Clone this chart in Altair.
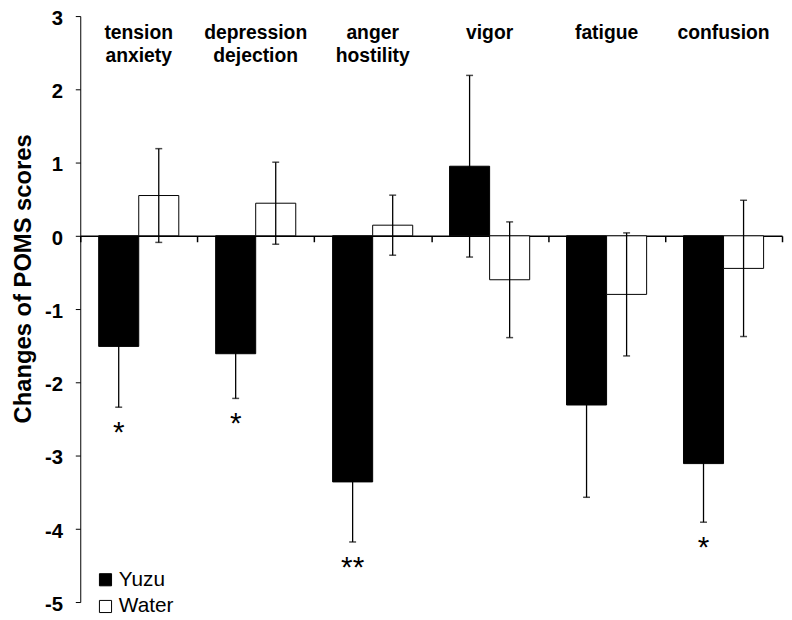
import altair as alt
import pandas as pd

categories = ["tension anxiety", "depression dejection", "anger hostility", "vigor", "fatigue", "confusion"]
cat_labels = ["tension\nanxiety", "depression\ndejection", "anger\nhostility", "vigor", "fatigue", "confusion"]
groups = ["Yuzu", "Water"]

yuzu_mean = [-1.51, -1.61, -3.36, 0.95, -2.31, -3.11]
yuzu_err = [0.83, 0.61, 0.82, 1.24, 1.26, 0.80]
water_mean = [0.55, 0.445, 0.145, -0.60, -0.80, -0.445]
water_err = [0.64, 0.56, 0.41, 0.79, 0.84, 0.93]
yuzu_sig = ["*", "*", "**", "", "", "*"]

rows = []
for i, c in enumerate(categories):
    rows.append(dict(cat=c, group="Yuzu", mean=yuzu_mean[i],
                     lo=yuzu_mean[i] - yuzu_err[i], hi=yuzu_mean[i] + yuzu_err[i], sig=yuzu_sig[i]))
    rows.append(dict(cat=c, group="Water", mean=water_mean[i],
                     lo=water_mean[i] - water_err[i], hi=water_mean[i] + water_err[i], sig=""))
df = pd.DataFrame(rows)
lab_df = pd.DataFrame({"cat": categories, "label": cat_labels})

FONT = "Liberation Sans"
W, H = 709, 592

xsc = alt.Scale(domain=categories, paddingInner=0, paddingOuter=0)
ysc = alt.Scale(domain=[-5, 3], nice=False, zero=False)
xaxis = alt.Axis(orient="bottom", offset=-(H * 5 / 8), labels=False, title=None,
                 tickBand="extent", tickSize=6, domainColor="black", tickColor="black",
                 domainWidth=1.5, tickWidth=1.5)
yaxis = alt.Axis(values=list(range(-5, 4)), labelExpr="datum.value + ''",
                 title="Changes of POMS scores", titleFont=FONT, titleFontSize=24,
                 titleFontWeight="bold", titleColor="black", titleX=-57, titleY=265,
                 titleAngle=270, titleAlign="center", titleBaseline="middle",
                 labelFont=FONT, labelFontSize=20.5, labelFontWeight="bold", labelColor="black",
                 labelPadding=13, labelOffset=2.5, tickSize=5, tickColor="black",
                 domainColor="black", tickWidth=1, domainWidth=1, grid=False)

def X():
    return alt.X("cat:N", scale=xsc, sort=categories, axis=xaxis)

def XO():
    return alt.XOffset("group:N", sort=groups,
                       scale=alt.Scale(domain=groups, paddingInner=0, paddingOuter=0.46))

bars = alt.Chart(df).mark_bar(stroke="black", strokeWidth=1).encode(
    x=X(), xOffset=XO(),
    y=alt.Y("mean:Q", scale=ysc, axis=yaxis),
    fill=alt.Fill("group:N", sort=groups,
                  scale=alt.Scale(domain=groups, range=["black", "white"]),
                  legend=alt.Legend(title=None, orient="none", legendX=15, legendY=559,
                                    symbolType="square", symbolSize=150,
                                    symbolStrokeColor="black", symbolStrokeWidth=1,
                                    labelFont=FONT, labelFontSize=21, labelColor="black",
                                    labelOffset=3, rowPadding=5, padding=0,
                                    direction="vertical")),
)

err = alt.Chart(df).mark_rule(color="black", strokeWidth=1.3).encode(
    x=X(), xOffset=XO(),
    y=alt.Y("lo:Q", scale=ysc, axis=yaxis), y2="hi:Q",
)
cap_lo = alt.Chart(df).mark_tick(color="black", orient="horizontal", size=7, thickness=1.5).encode(
    x=X(), xOffset=XO(), y=alt.Y("lo:Q", scale=ysc, axis=yaxis),
)
cap_hi = alt.Chart(df).mark_tick(color="black", orient="horizontal", size=7, thickness=1.5).encode(
    x=X(), xOffset=XO(), y=alt.Y("hi:Q", scale=ysc, axis=yaxis),
)

stars = alt.Chart(df).mark_text(font=FONT, fontSize=30, color="black", baseline="alphabetic",
                                align="center", dy=35).encode(
    x=X(), xOffset=XO(), y=alt.Y("lo:Q", scale=ysc, axis=yaxis), text="sig:N",
)

labels = alt.Chart(lab_df).mark_text(font=FONT, fontSize=19.5, fontWeight="bold", color="black",
                                     lineBreak="\n", lineHeight=23, baseline="alphabetic",
                                     align="center", dy=23.5).encode(
    x=X(), y=alt.Y(datum=3, type="quantitative", scale=ysc, axis=yaxis), text="label:N",
)

chart = alt.layer(bars, err, cap_lo, cap_hi, stars, labels).properties(
    width=W, height=H,
    padding={"left": 73, "top": 5, "right": 2, "bottom": 15},
    autosize=alt.AutoSizeParams(type="none"),
).configure_view(stroke=None)

chart.save("out.html", embed_options={"renderer": "svg", "actions": False})
